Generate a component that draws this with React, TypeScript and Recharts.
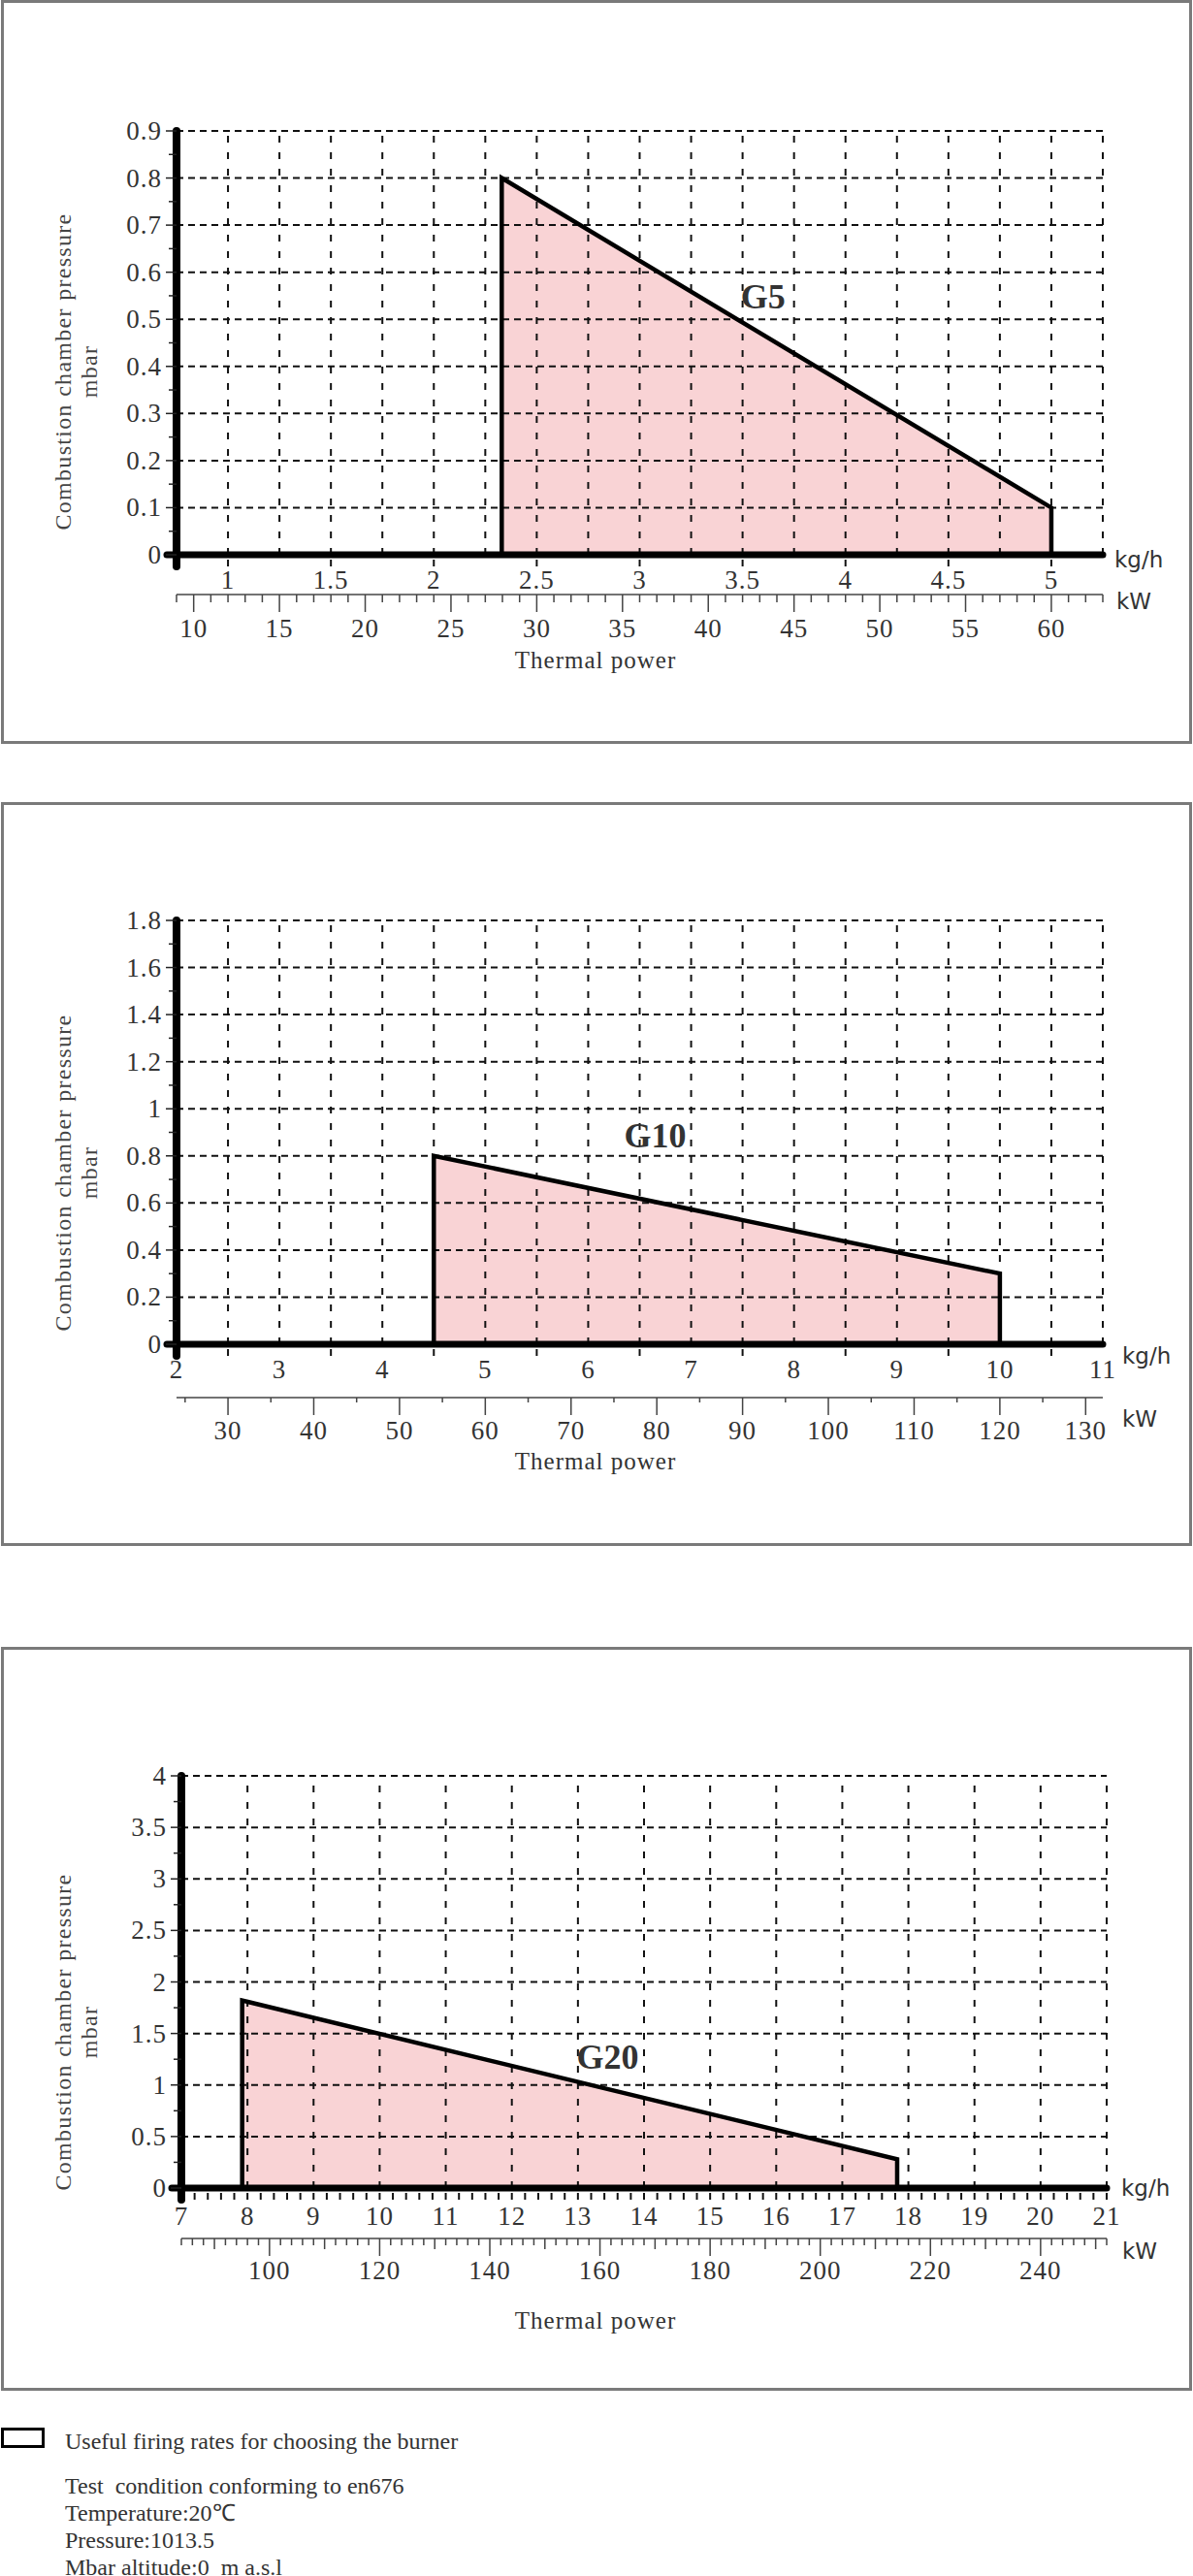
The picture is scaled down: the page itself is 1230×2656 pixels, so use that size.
import React from 'react';
import { ComposedChart, Area, Line, XAxis, YAxis, ReferenceLine, ReferenceDot } from 'recharts';

const SERIF = '"Liberation Serif", "Times New Roman", serif';
const SANS = '"DejaVu Sans", Arial, sans-serif';
const TEXT = '#333';
const FILL = '#f9d3d5';
const KW_PER_KG = 12; // kW of thermal power per kg/h of gas

// G5
const g5Flow = [2.33, 2.33, 5, 5];
const g5Pressure = [0, 0.8, 0.1, 0];
const g5FlowLabels = [1, 1.5, 2, 2.5, 3, 3.5, 4, 4.5, 5];
const g5FlowGrid = [1, 1.25, 1.5, 1.75, 2, 2.25, 2.5, 2.75, 3, 3.25, 3.5, 3.75, 4, 4.25, 4.5, 4.75, 5, 5.25];
const g5PressureLabels = [0, 0.1, 0.2, 0.3, 0.4, 0.5, 0.6, 0.7, 0.8, 0.9];
const g5KwLabels = [10, 15, 20, 25, 30, 35, 40, 45, 50, 55, 60];

// G10
const g10Flow = [4.5, 4.5, 10, 10];
const g10Pressure = [0, 0.8, 0.3, 0];
const g10FlowLabels = [2, 3, 4, 5, 6, 7, 8, 9, 10, 11];
const g10FlowGrid = [2.5, 3, 3.5, 4, 4.5, 5, 5.5, 6, 6.5, 7, 7.5, 8, 8.5, 9, 9.5, 10, 10.5, 11];
const g10PressureLabels = [0, 0.2, 0.4, 0.6, 0.8, 1, 1.2, 1.4, 1.6, 1.8];
const g10KwLabels = [30, 40, 50, 60, 70, 80, 90, 100, 110, 120, 130];

// G20
const g20Flow = [7.92, 7.92, 17.83, 17.83];
const g20Pressure = [0, 1.82, 0.28, 0];
const g20FlowLabels = [7, 8, 9, 10, 11, 12, 13, 14, 15, 16, 17, 18, 19, 20, 21];
const g20FlowGrid = [8, 9, 10, 11, 12, 13, 14, 15, 16, 17, 18, 19, 20, 21];
const g20PressureLabels = [0, 0.5, 1, 1.5, 2, 2.5, 3, 3.5, 4];
const g20KwLabels = [100, 120, 140, 160, 180, 200, 220, 240];

const footerNotes = [
  'Test  condition conforming to en676',
  'Temperature:20\u2103',
  'Pressure:1013.5',
  'Mbar altitude:0  m a.s.l',
];

const range = (a: number, b: number, s: number) => {
  const out: number[] = [];
  const n = Math.round((b - a) / s);
  for (let i = 0; i <= n; i++) out.push(Math.round((a + i * s) * 1000) / 1000);
  return out;
};
const uniq = (v: number[]) => Array.from(new Set(v)).sort((a, b) => a - b);

const charts = [
  {
    tag: 'G5', flow: g5Flow, pressure: g5Pressure, xMin: 0.75, xMax: 5.25, yMax: 0.9,
    flowLabels: g5FlowLabels, flowGrid: g5FlowGrid, flowMarks: g5FlowLabels,
    yLabels: g5PressureLabels, yMinor: range(0.05, 0.85, 0.1),
    kwLabels: g5KwLabels, kwStep: 1, kwMajor: 5, kwMid: 0, kwMinorLen: 8,
    tagAt: [3.6, 0.55],
    L: { top: 0, plotTop: 135, plotBottom: 572, left: 182, right: 1137, kgH: 41, kwH: 60,
      kgUnit: [1149, 577], kwUnit: [1151, 620], titleY: 383, thermalY: 681, kgDy: 26, kwDy: 35 },
  },
  {
    tag: 'G10', flow: g10Flow, pressure: g10Pressure, xMin: 2, xMax: 11, yMax: 1.8,
    flowLabels: g10FlowLabels, flowGrid: g10FlowGrid, flowMarks: range(2.5, 10.5, 1),
    yLabels: g10PressureLabels, yMinor: range(0.1, 1.7, 0.2),
    kwLabels: g10KwLabels, kwStep: 5, kwMajor: 10, kwMid: 0, kwMinorLen: 5,
    tagAt: [6.65, 0.89],
    L: { top: 827, plotTop: 122, plotBottom: 559, left: 182, right: 1137, kgH: 55, kwH: 60,
      kgUnit: [1157, 571], kwUnit: [1157, 636], titleY: 382, thermalY: 680, kgDy: 26, kwDy: 34 },
  },
  {
    tag: 'G20', flow: g20Flow, pressure: g20Pressure, xMin: 7, xMax: 21, yMax: 4,
    flowLabels: g20FlowLabels, flowGrid: g20FlowGrid, flowMarks: range(7.2, 21, 0.2),
    yLabels: g20PressureLabels, yMinor: range(0.25, 3.75, 0.5),
    kwLabels: g20KwLabels, kwStep: 2, kwMajor: 20, kwMid: 10, kwMinorLen: 7,
    tagAt: [13.45, 1.28],
    L: { top: 1698, plotTop: 133, plotBottom: 558, left: 187, right: 1141, kgH: 52, kwH: 60,
      kgUnit: [1156, 558], kwUnit: [1157, 623], titleY: 397, thermalY: 695, kgDy: 29, kwDy: 33 },
  },
];

type Cfg = (typeof charts)[number];

const tickText = { fontFamily: SERIF, fontSize: 27, fill: TEXT, letterSpacing: 1 };

function YTick(props: any) {
  const { x, y, payload, c } = props;
  const v = payload.value;
  const major = c.yLabels.includes(v);
  return (
    <g>
      <line x1={x - (major ? 11 : 8)} x2={x} y1={y} y2={y} stroke="#222" strokeWidth={1.5} />
      {major && (
        <text x={x - 15} y={y} textAnchor="end" dominantBaseline="central" {...tickText}>
          {v}
        </text>
      )}
    </g>
  );
}

function KgTick(props: any) {
  const { x, y, payload, c } = props;
  const v = payload.value;
  return (
    <g>
      {c.flowMarks.includes(v) && <line x1={x} x2={x} y1={y + 5} y2={y + 12} stroke="#111" strokeWidth={2} />}
      {c.flowLabels.includes(v) && (
        <text x={x} y={y + c.L.kgDy} textAnchor="middle" dominantBaseline="central" {...tickText}>
          {v}
        </text>
      )}
    </g>
  );
}

function KwTick(props: any) {
  const { x, y, payload, c } = props;
  const v = payload.value;
  const len = v % c.kwMajor === 0 ? 18 : c.kwMid && v % c.kwMid === 0 ? 11 : c.kwMinorLen;
  return (
    <g>
      <line x1={x} x2={x} y1={y} y2={y + len} stroke="#444" strokeWidth={1.5} />
      {c.kwLabels.includes(v) && (
        <text x={x} y={y + c.L.kwDy} textAnchor="middle" dominantBaseline="central" {...tickText}>
          {v}
        </text>
      )}
    </g>
  );
}

function GasChart({ c }: { c: Cfg }) {
  const L = c.L;
  const H = 767;
  const rows = c.flow.map((f, i) => ({ flow: f, kw: f * KW_PER_KG, pressure: c.pressure[i] }));
  const pxX = (c.xMax - c.xMin) / (L.right - L.left);
  const pxY = c.yMax / (L.plotBottom - L.plotTop);
  const yTicks = uniq([...c.yLabels, ...c.yMinor]);
  const kgTicks = uniq([...c.flowLabels, ...c.flowMarks]);
  const kwLo = Math.ceil((c.xMin * KW_PER_KG) / c.kwStep) * c.kwStep;
  const kwHi = Math.floor((c.xMax * KW_PER_KG) / c.kwStep) * c.kwStep;
  const kwTicks = range(kwLo, kwHi, c.kwStep);
  const yGrid = c.yLabels.filter((v) => v > 0);

  return (
    <div style={{ position: 'absolute', left: 0, top: L.top, width: 1230, height: H }}>
      <ComposedChart
        width={1230}
        height={H}
        data={rows}
        margin={{ top: L.plotTop, right: 1230 - L.right, left: L.left - 60, bottom: H - L.plotBottom - L.kgH - L.kwH }}
      >
        <XAxis xAxisId="kg" dataKey="flow" type="number" domain={[c.xMin, c.xMax]} allowDataOverflow
          ticks={kgTicks} interval={0} height={L.kgH} axisLine={false} tickLine={false} tickSize={0} tickMargin={0}
          tick={(p: any) => <KgTick {...p} c={c} />} />
        <XAxis xAxisId="kw" dataKey="kw" type="number" domain={[c.xMin * KW_PER_KG, c.xMax * KW_PER_KG]}
          allowDataOverflow ticks={kwTicks} interval={0} height={L.kwH} axisLine={{ stroke: '#444', strokeWidth: 1.5 }}
          tickLine={false} tickSize={0} tickMargin={0} tick={(p: any) => <KwTick {...p} c={c} />} />
        <YAxis type="number" domain={[0, c.yMax]} allowDataOverflow ticks={yTicks} interval={0} width={60}
          axisLine={false} tickLine={false} tickSize={0} tickMargin={0} tick={(p: any) => <YTick {...p} c={c} />} />
        <Area xAxisId="kw" dataKey="pressure" type="linear" fill="none" stroke="none"
          dot={false} activeDot={false} isAnimationActive={false} />
        <Area xAxisId="kg" dataKey="pressure" type="linear" fill={FILL} fillOpacity={1} stroke="none"
          dot={false} activeDot={false} isAnimationActive={false} zIndex={100} />
        {yGrid.map((v) => (
          <ReferenceLine key={'h' + v} xAxisId="kg" y={v} stroke="#111" strokeWidth={2} strokeDasharray="7 5" zIndex={150} />
        ))}
        {c.flowGrid.map((v) => (
          <ReferenceLine key={'v' + v} xAxisId="kg" x={v} stroke="#111" strokeWidth={2} strokeDasharray="7 10" zIndex={150} />
        ))}
        <Line xAxisId="kg" dataKey="pressure" type="linear" stroke="#000" strokeWidth={4.5} dot={false}
          activeDot={false} isAnimationActive={false} zIndex={200} />
        <ReferenceLine xAxisId="kg" ifOverflow="visible" stroke="#000" strokeWidth={8} strokeLinecap="round" zIndex={300}
          segment={[{ x: c.xMin, y: -12 * pxY }, { x: c.xMin, y: c.yMax }]} />
        <ReferenceLine xAxisId="kg" ifOverflow="visible" stroke="#000" strokeWidth={7} strokeLinecap="round" zIndex={300}
          segment={[{ x: c.xMin - 10 * pxX, y: 0 }, { x: c.xMax, y: 0 }]} />
        <ReferenceDot xAxisId="kg" x={c.tagAt[0]} y={c.tagAt[1]} r={1} fill="none" stroke="none" ifOverflow="visible"
          zIndex={400}
          label={{ value: c.tag, position: 'center', fill: TEXT, fontSize: 36, fontWeight: 700, fontFamily: SERIF }} />
      </ComposedChart>

      <div style={{ position: 'absolute', left: 65, top: L.titleY, transform: 'translate(-50%, -50%) rotate(-90deg)',
        whiteSpace: 'nowrap', fontFamily: SERIF, fontSize: 24, letterSpacing: 1.3, color: '#444', lineHeight: '26px' }}>
        Combustion chamber pressure
      </div>
      <div style={{ position: 'absolute', left: 92, top: L.titleY, transform: 'translate(-50%, -50%) rotate(-90deg)',
        whiteSpace: 'nowrap', fontFamily: SERIF, fontSize: 24, letterSpacing: 1.3, color: '#444', lineHeight: '26px' }}>
        mbar
      </div>
      <div style={{ position: 'absolute', left: L.kgUnit[0], top: L.kgUnit[1] - 14, fontFamily: SANS, fontSize: 23,
        lineHeight: '28px', color: TEXT }}>kg/h</div>
      <div style={{ position: 'absolute', left: L.kwUnit[0], top: L.kwUnit[1] - 14, fontFamily: SANS, fontSize: 23,
        lineHeight: '28px', color: TEXT }}>kW</div>
      <div style={{ position: 'absolute', left: 614, top: L.thermalY - 14, transform: 'translateX(-50%)',
        whiteSpace: 'nowrap', fontFamily: SERIF, fontSize: 25, letterSpacing: 1, lineHeight: '28px', color: TEXT }}>
        Thermal power
      </div>
    </div>
  );
}

export default function App() {
  return (
    <div style={{ position: 'absolute', left: 0, top: 0, width: 1230, height: 2656, background: '#fff' }}>
      {charts.map((c) => (
        <div key={'p' + c.tag} style={{ position: 'absolute', left: 1, top: c.L.top, width: 1228, height: 767,
          border: '3px solid #7a7a7a', boxSizing: 'border-box' }} />
      ))}
      {charts.map((c) => (
        <GasChart key={c.tag} c={c} />
      ))}
      <div style={{ position: 'absolute', left: 1, top: 2503, width: 45, height: 21, border: '3px solid #000',
        boxSizing: 'border-box' }} />
      <div style={{ position: 'absolute', left: 67, top: 2503, fontFamily: SERIF, fontSize: 24, lineHeight: '28px',
        color: TEXT, whiteSpace: 'pre' }}>
        Useful firing rates for choosing the burner
      </div>
      {footerNotes.map((t, i) => (
        <div key={t} style={{ position: 'absolute', left: 67, top: 2549 + i * 28, fontFamily: SERIF, fontSize: 24,
          lineHeight: '28px', color: TEXT, whiteSpace: 'pre' }}>
          {t}
        </div>
      ))}
    </div>
  );
}
